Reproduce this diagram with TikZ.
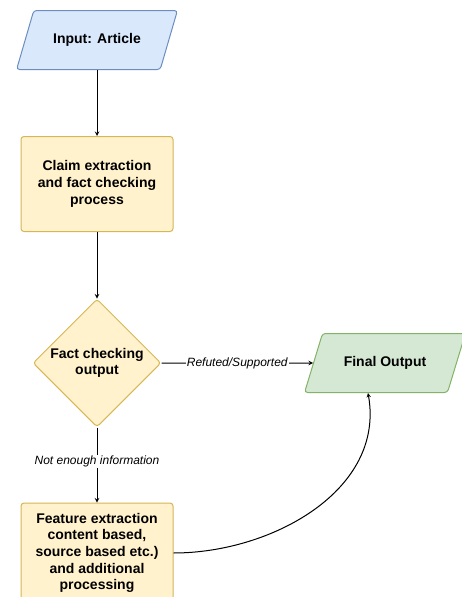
\documentclass[tikz,border=0pt]{standalone}
\usepackage{fontspec}
\setmainfont{Liberation Sans}
\usepackage{tikz}
\usetikzlibrary{shapes.geometric, arrows, positioning}
\definecolor{ioBlueFill}{HTML}{DAE8FC}
\definecolor{ioBlueDraw}{HTML}{6C8EBF}
\definecolor{procFill}{HTML}{FFF2CC}
\definecolor{procDraw}{HTML}{D6B656}
\definecolor{outFill}{HTML}{D5E8D4}
\definecolor{outDraw}{HTML}{82B366}
\tikzstyle{ioNode} = [trapezium, trapezium stretches=true, trapezium left angle=57, trapezium right angle=123, minimum width=161pt, minimum height=59pt, rounded corners=3pt, line width=1pt, font=\fontsize{14}{16.7}\selectfont\bfseries, text centered]
\tikzstyle{ioNodeB} = [ioNode, draw=ioBlueDraw, fill=ioBlueFill]
\tikzstyle{ioNodeG} = [ioNode, draw=outDraw, fill=outFill]
\tikzstyle{recNode} = [rectangle, minimum width=152pt, minimum height=95pt, align=center, rounded corners=3pt, line width=1pt, draw=procDraw, fill=procFill, font=\fontsize{14}{16.7}\selectfont\bfseries]
\tikzstyle{decNode} = [diamond, minimum size=128pt, inner sep=0pt, align=center, rounded corners=3pt, line width=1pt, draw=procDraw, fill=procFill, font=\fontsize{14}{16.7}\selectfont\bfseries]
\tikzstyle{arrow} = [line width=1pt,->,>=stealth,draw=black]
\tikzstyle{edgeLabel} = [fill=white, inner sep=1pt, font=\fontsize{12}{14}\selectfont\itshape]

\begin{document}
\begin{tikzpicture}[x=1pt, y=1pt]
        \useasboundingbox (0,0) rectangle (461,-597);
        \node (input) [ioNodeB] at (97,-40) {Input: Article};
        \node (claim) [recNode, below of=input, node distance=144pt] {Claim extraction\\and fact checking\\process};
        \node (check) [decNode, below of=claim, node distance=179pt] {Fact checking\\output};
        \node (feature) [recNode, below of=check, node distance=190pt, minimum height=100pt] {Feature extraction\\content based,\\source based etc.)\\and additional\\processing};
        \node (final) [ioNodeG, right of=check, node distance=288pt] {Final Output};

        \draw [arrow] (input) -- (claim);
        \draw [arrow] (claim) -- (check);
        \draw [arrow] (check) -- node [edgeLabel] {Refuted/Supported} (final);
        \draw [arrow] (check) -- node [edgeLabel, pos=0.45] {Not enough information} (feature);
        \draw [arrow] (feature.east) to[out=0, in=-80, looseness=1] ([xshift=-17pt]final.south);
    \end{tikzpicture}
\end{document}
